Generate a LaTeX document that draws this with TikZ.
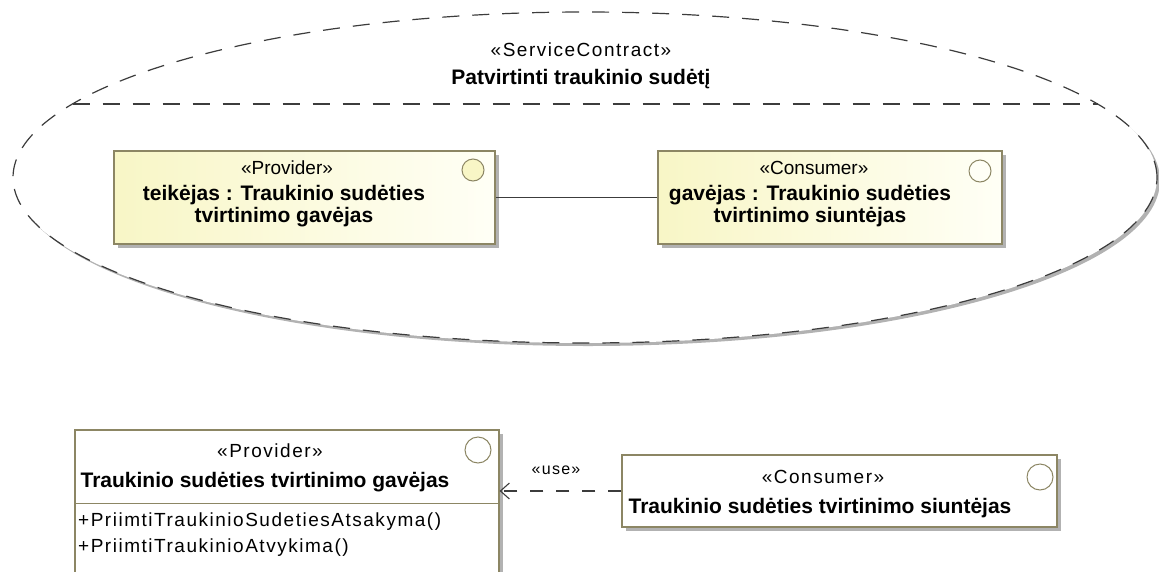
\documentclass[tikz,border=0pt]{standalone}
\usepackage{fontspec}
\setmainfont{Liberation Sans}
\newfontfamily\spacedfont[LetterSpace=8]{Liberation Sans}
\usetikzlibrary{arrows.meta}

\definecolor{linecol}{RGB}{60,60,60}
\definecolor{umlborder}{RGB}{140,134,100}
\definecolor{umlyellow}{RGB}{248,246,198}
\definecolor{umlpale}{RGB}{255,255,246}
\definecolor{shadowgray}{RGB}{178,178,178}

\tikzset{
  umlshadow/.style={preaction={fill=shadowgray, transform canvas={shift={(4pt,-4pt)}}}},
  partbox/.style={rectangle, draw=umlborder, line width=1.2pt,
    left color=umlyellow, right color=umlpale, umlshadow, inner sep=0pt},
  classbox/.style={rectangle, draw=umlborder, line width=1.2pt,
    fill=white, umlshadow, inner sep=0pt},
  portmark/.style={circle, draw=umlborder, line width=1pt, inner sep=0pt},
  stereo/.style={inner sep=0pt, font=\fontsize{19}{22}\selectfont},
  widestereo/.style={inner sep=0pt, font=\fontsize{19}{22}\selectfont\spacedfont},
  boldname/.style={inner sep=0pt, align=center, font=\fontsize{21}{22}\selectfont\bfseries},
  opline/.style={inner sep=0pt, anchor=west, font=\fontsize{19}{22}\selectfont\spacedfont},
  contractdash/.style={draw=linecol, line width=1.2pt, dash pattern=on 17pt off 13pt},
}

\begin{document}
\begin{tikzpicture}[x=1pt, y=-1pt]
\useasboundingbox (0,0) rectangle (1159,571);

% service contract: shadowed dashed ellipse with header compartment
\fill[shadowgray] (588,180.5) ellipse [x radius=572pt, y radius=165.5pt];
\fill[white] (585,177.5) ellipse [x radius=572pt, y radius=165.5pt];
\draw[contractdash] (585,177.5) ellipse [x radius=572pt, y radius=165.5pt];
\coordinate (hdrL) at (72.5,104);
\coordinate (hdrR) at (1097.5,104);
\draw[contractdash] (hdrL) -- (hdrR);

\node[widestereo] (scst) at (581,50) {«ServiceContract»};
\node[boldname] (scname) at (581,79) {Patvirtinti traukinio sudėtį};

% parts of the contract
\node[partbox, minimum width=381pt, minimum height=93pt] (ppart) at (304.5,197.5) {};
\node[portmark, fill=umlyellow, minimum size=22pt] (ppartport) at (473,170) {};
\node[stereo] (ppartst) at (287,168) {«Provider»};
\node[boldname] (ppartname) at (284,206) {teikėjas : Traukinio sudėties\\tvirtinimo gavėjas};

\node[partbox, minimum width=344pt, minimum height=93pt] (cpart) at (830,197.5) {};
\node[portmark, fill=umlpale, minimum size=22pt] (cpartport) at (980,171) {};
\node[stereo] (cpartst) at (814,168) {«Consumer»};
\node[boldname] (cpartname) at (810,206) {gavėjas : Traukinio sudėties\\tvirtinimo siuntėjas};

\draw[linecol, line width=1.2pt] (ppart.east) -- (cpart.west);

% provider interface
\node[classbox, minimum width=424pt, minimum height=150pt] (prov) at (287,505) {};
\draw[umlborder, line width=1.2pt] ([yshift=-74pt]prov.north west) -- ([yshift=-74pt]prov.north east);
\node[portmark, fill=white, minimum size=26pt] (provport) at (478,450) {};
\node[widestereo] (provst) at (270,451) {«Provider»};
\node[boldname] (provname) at (265,482) {Traukinio sudėties tvirtinimo gavėjas};
\node[opline] (op1) at (78,522) {+PriimtiTraukinioSudetiesAtsakyma()};
\node[opline] (op2) at (78,548) {+PriimtiTraukinioAtvykima()};

% consumer interface
\node[classbox, minimum width=435pt, minimum height=72pt] (cons) at (839.5,491) {};
\node[portmark, fill=white, minimum size=26pt] (consport) at (1040,477) {};
\node[widestereo] (consst) at (823,477) {«Consumer»};
\node[boldname] (consname) at (820,508) {Traukinio sudėties tvirtinimo siuntėjas};

% usage dependency
\draw[linecol, line width=1.1pt, dash pattern=on 13pt off 13pt,
      -{Straight Barb[length=9pt, width=16pt, line width=1.1pt]}]
  (cons.west) -- (prov.east |- cons.west);
\node[inner sep=0pt, font=\fontsize{16}{18}\selectfont\spacedfont] (uselbl) at (556,470) {«use»};

\end{tikzpicture}
\end{document}
